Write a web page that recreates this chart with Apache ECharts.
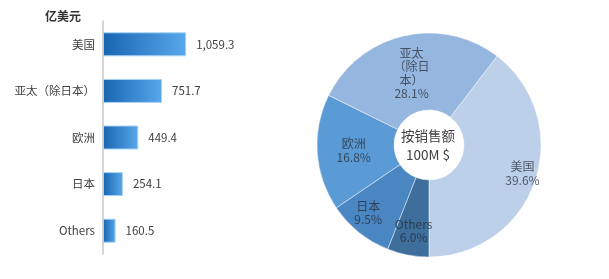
<!DOCTYPE html>
<html>
<head>
<meta charset="utf-8">
<script src="https://cdn.jsdelivr.net/npm/echarts@6/dist/echarts.min.js"></script>
<style>html,body{margin:0;padding:0;background:#fff;}#c{width:609px;height:279px;}</style>
</head>
<body>
<div id="c"></div>
<script>
const categories = ['美国', '亚太（除日本）', '欧洲', '日本', 'Others'];
const values = [1059.3, 751.7, 449.4, 254.1, 160.5];
const valueLabels = ['1,059.3', '751.7', '449.4', '254.1', '160.5'];
const pieLabelNames = ['美国', '亚太\n（除日\n本）', '欧洲', '日本', 'Others'];
const unitLabel = '亿美元';
const centerLines = ['按销售额', '100M $'];

const FONT = '"Noto Sans CJK SC", "Noto Sans", sans-serif';
const pieColors = ['#bcd0ea', '#95b7df', '#5b9bd5', '#4a86c1', '#3e6f9c'];
const labelShift = [[21, 4], [0, 3], [1, 0], [-13, 8], [-1, 11]];

const chart = echarts.init(document.getElementById('c'), null, {renderer: 'canvas'});
chart.setOption({
  backgroundColor: '#fff',
  animation: false,
  textStyle: {fontFamily: FONT},
  title: {
    text: unitLabel, left: 45, top: 10, padding: 0,
    textStyle: {fontSize: 12, fontWeight: 'bold', color: '#333', fontFamily: FONT}
  },
  graphic: [{
    type: 'text', x: 428, y: 145,
    style: {
      text: centerLines.join('\n'), fill: '#404040', font: '13.5px ' + FONT,
      align: 'center', verticalAlign: 'middle', lineHeight: 19
    }
  }],
  grid: {left: 103, top: 21, bottom: 25, width: 157},
  xAxis: {
    type: 'value', min: 0, max: 2000, show: false
  },
  yAxis: {
    type: 'category', data: categories, inverse: true,
    axisLine: {show: true, lineStyle: {color: '#c8c8c8', width: 1.5}},
    axisTick: {show: false},
    axisLabel: {color: '#404040', fontSize: 11.5, margin: 8, fontFamily: FONT}
  },
  series: [{
    type: 'bar',
    data: values,
    barWidth: 24,
    itemStyle: {
      color: new echarts.graphic.LinearGradient(0, 0, 1, 0, [
        {offset: 0, color: '#1865b2'},
        {offset: 1, color: '#58a8ea'}
      ]),
      borderColor: '#a6d3f4', borderWidth: 1
    },
    label: {
      show: true, position: 'right', distance: 10,
      color: '#404040', fontSize: 11.5, fontFamily: FONT,
      formatter: p => valueLabels[p.dataIndex]
    }
  }, {
    type: 'pie',
    center: [429, 145],
    radius: [35, 112],
    startAngle: 270,
    clockwise: false,
    avoidLabelOverlap: false,
    data: categories.map((c, i) => ({name: c, value: values[i], itemStyle: {color: pieColors[i]}})),
    itemStyle: {borderColor: 'rgba(255,255,255,0.45)', borderWidth: 1},
    label: {
      show: true, position: 'inside',
      color: 'rgba(35,40,50,0.72)', fontSize: 12, lineHeight: 13.5, fontFamily: FONT,
      formatter: p => pieLabelNames[p.dataIndex] + '\n' + p.percent.toFixed(1) + '%'
    },
    labelLine: {show: false},
    labelLayout: p => (p.seriesIndex === 1 ? {dx: labelShift[p.dataIndex][0], dy: labelShift[p.dataIndex][1]} : {}),
    percentPrecision: 1,
    emphasis: {disabled: true}
  }]
});
</script>
</body>
</html>
